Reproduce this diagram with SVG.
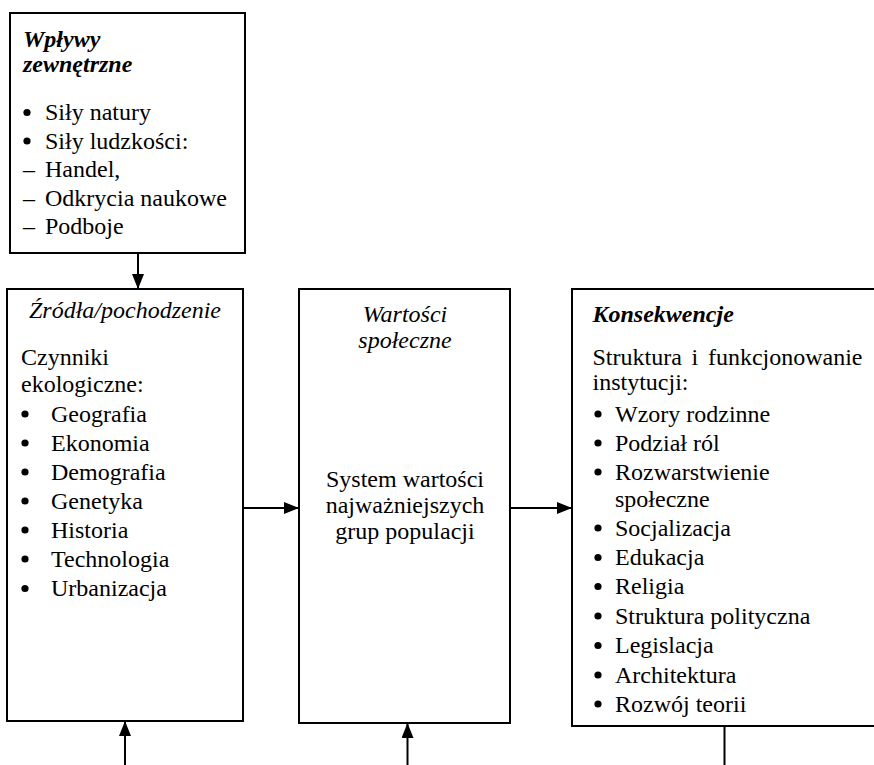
<svg xmlns="http://www.w3.org/2000/svg" width="874" height="765" viewBox="0 0 874 765">
<style>
text{font-family:"Liberation Serif","Times New Roman",serif;font-size:24px;fill:#000}
.bi{font-weight:bold;font-style:italic}
.it{font-style:italic}
.mid{text-anchor:middle}
.box{fill:#fff;stroke:#000;stroke-width:2}
.con{fill:none;stroke:#000;stroke-width:2}
.dot{fill:#000}
</style>
<defs>
<marker id="ah" markerUnits="userSpaceOnUse" markerWidth="15" markerHeight="12" refX="15" refY="6" orient="auto">
<path d="M0,0 L15,6 L0,12 Z" fill="#000"/>
</marker>
</defs>
<rect width="874" height="765" fill="#fff"/>
<g id="connectors">
<line class="con" x1="138" y1="253" x2="138" y2="289" marker-end="url(#ah)"/>
<line class="con" x1="243" y1="508" x2="299" y2="508" marker-end="url(#ah)"/>
<line class="con" x1="510" y1="508" x2="572" y2="508" marker-end="url(#ah)"/>
<line class="con" x1="125" y1="765" x2="125" y2="721" marker-end="url(#ah)"/>
<line class="con" x1="407.5" y1="765" x2="407.5" y2="723" marker-end="url(#ah)"/>
<line class="con" x1="724.5" y1="726" x2="724.5" y2="765"/>
</g>
<g id="wplywy">
<rect class="box" x="10" y="13" width="235" height="240"/>
<text class="bi" x="23" y="47">Wpływy</text>
<text class="bi" x="23" y="72">zewnętrzne</text>
<circle class="dot" cx="27" cy="112.5" r="3.6"/><text x="45" y="120">Siły natury</text>
<circle class="dot" cx="27" cy="141" r="3.6"/><text x="45" y="148.5">Siły ludzkości:</text>
<text x="23" y="177">–</text><text x="45" y="177">Handel,</text>
<text x="23" y="205.5">–</text><text x="45" y="205.5">Odkrycia naukowe</text>
<text x="23" y="234">–</text><text x="45" y="234">Podboje</text>
</g>
<g id="zrodla">
<rect class="box" x="7" y="289" width="236" height="432"/>
<text class="it mid" x="125" y="318">Źródła/pochodzenie</text>
<text x="21" y="365">Czynniki</text>
<text x="21" y="392">ekologiczne:</text>
<circle class="dot" cx="25" cy="414" r="3.6"/><text x="51" y="421.5">Geografia</text>
<circle class="dot" cx="25" cy="443" r="3.6"/><text x="51" y="450.5">Ekonomia</text>
<circle class="dot" cx="25" cy="472" r="3.6"/><text x="51" y="479.5">Demografia</text>
<circle class="dot" cx="25" cy="501" r="3.6"/><text x="51" y="508.5">Genetyka</text>
<circle class="dot" cx="25" cy="530" r="3.6"/><text x="51" y="537.5">Historia</text>
<circle class="dot" cx="25" cy="559" r="3.6"/><text x="51" y="566.5">Technologia</text>
<circle class="dot" cx="25" cy="588.5" r="3.6"/><text x="51" y="596">Urbanizacja</text>
</g>
<g id="wartosci">
<rect class="box" x="299" y="289" width="211" height="434"/>
<text class="it mid" x="405" y="321.5">Wartości</text>
<text class="it mid" x="405" y="348">społeczne</text>
<text class="mid" x="405" y="487">System wartości</text>
<text class="mid" x="405" y="513">najważniejszych</text>
<text class="mid" x="405" y="539">grup populacji</text>
</g>
<g id="konsekwencje">
<rect class="box" x="572" y="289" width="312" height="437"/>
<text class="bi" x="592.5" y="321.5">Konsekwencje</text>
<text x="592.5" y="365" word-spacing="3.7">Struktura i funkcjonowanie</text>
<text x="592.5" y="390">instytucji:</text>
<circle class="dot" cx="598" cy="414" r="3.6"/><text x="615" y="421.5">Wzory rodzinne</text>
<circle class="dot" cx="598" cy="443" r="3.6"/><text x="615" y="450.5">Podział ról</text>
<circle class="dot" cx="598" cy="472" r="3.6"/><text x="615" y="479.5">Rozwarstwienie</text>
<text x="615" y="506.5">społeczne</text>
<circle class="dot" cx="598" cy="528" r="3.6"/><text x="615" y="535.5">Socjalizacja</text>
<circle class="dot" cx="598" cy="557.5" r="3.6"/><text x="615" y="565">Edukacja</text>
<circle class="dot" cx="598" cy="586.5" r="3.6"/><text x="615" y="594">Religia</text>
<circle class="dot" cx="598" cy="616" r="3.6"/><text x="615" y="623.5">Struktura polityczna</text>
<circle class="dot" cx="598" cy="645.5" r="3.6"/><text x="615" y="653">Legislacja</text>
<circle class="dot" cx="598" cy="675" r="3.6"/><text x="615" y="682.5">Architektura</text>
<circle class="dot" cx="598" cy="704" r="3.6"/><text x="615" y="711.5">Rozwój teorii</text>
</g>
</svg>
